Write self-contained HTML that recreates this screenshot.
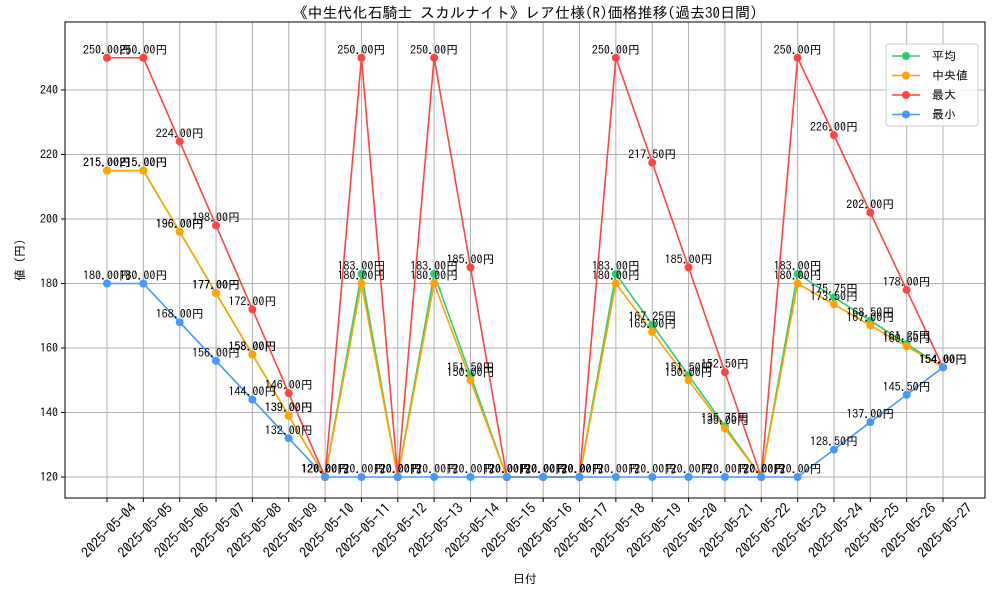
<!DOCTYPE html>
<html><head><meta charset="utf-8"><style>
html,body{margin:0;padding:0;background:#fff;}
svg{display:block;font-family:"IPAGothic","Noto Sans CJK JP","Liberation Sans",sans-serif;}
</style></head><body>
<svg id="chart" width="1000" height="600" viewBox="0 0 1000 600" xmlns="http://www.w3.org/2000/svg">
<rect width="1000" height="600" fill="#fff"/>
<text x="525" y="18" text-anchor="middle" font-size="15">《中生代化石騎士 スカルナイト》レア仕様(R)価格推移(過去30日間)</text>
<g id="grid"></g><g id="series"></g><g id="labels"></g>
<rect x="65" y="22" width="920" height="476" fill="none" stroke="#000" stroke-width="1"/>
<g id="axes"></g>
<text x="525" y="583" text-anchor="middle" font-size="12">日付</text>
<text transform="translate(24,260) rotate(-90)" text-anchor="middle" font-size="12">値 (円)</text>
<g>
<rect x="886" y="44" width="92" height="82" rx="3" fill="#fff" fill-opacity="0.85" stroke="#ccc"/>
<g id="legend"></g>
</g>
</svg>
<script>
const dates=["2025-05-04","2025-05-05","2025-05-06","2025-05-07","2025-05-08","2025-05-09","2025-05-10","2025-05-11","2025-05-12","2025-05-13","2025-05-14","2025-05-15","2025-05-16","2025-05-17","2025-05-18","2025-05-19","2025-05-20","2025-05-21","2025-05-22","2025-05-23","2025-05-24","2025-05-25","2025-05-26","2025-05-27"];
const meanVals=[215,215,196,177,158,139,120,183,120,183,151.5,120,120,120,183,167.25,151.5,135.75,120,183,175.75,168.5,161.25,154];
const medianVals=[215,215,196,177,158,139,120,180,120,180,150,120,120,120,180,165,150,135,120,180,173.5,167,160.5,154];
const maxVals=[250,250,224,198,172,146,120,250,120,250,185,120,120,120,250,217.5,185,152.5,120,250,226,202,178,154];
const minVals=[180,180,168,156,144,132,120,120,120,120,120,120,120,120,120,120,120,120,120,120,128.5,137,145.5,154];
const yTicks=[120,140,160,180,200,220,240];
const seriesNames=["平均","中央値","最大","最小"];
const NS="http://www.w3.org/2000/svg";
function X(i){return 107+i*(943-107)/(dates.length-1);}
function Y(v){return 477-(v-120)*(477-90)/120;}
function mk(t,a,p){const e=document.createElementNS(NS,t);for(const k in a)e.setAttribute(k,a[k]);p.appendChild(e);return e;}
const grid=document.getElementById('grid'),axes=document.getElementById('axes');
dates.forEach((d,i)=>{
  const l=mk('line',{x1:X(i),x2:X(i),y1:22,y2:498,stroke:'#b0b0b0','stroke-width':1},grid);
  
  
  mk('line',{x1:X(i),x2:X(i),y1:498,y2:502,stroke:'#000'},axes);
  const t=mk('text',{'font-size':14,'text-anchor':'end',transform:`translate(${X(i)+30},${509}) rotate(-45)`},axes);
  t.textContent=d;
  
  
});
yTicks.forEach(v=>{
  const l=mk('line',{x1:65,x2:985,y1:Y(v),y2:Y(v),stroke:'#b0b0b0','stroke-width':1},grid);
  
  
  mk('line',{x1:61,x2:65,y1:Y(v),y2:Y(v),stroke:'#000'},axes);
  const t=mk('text',{x:58,y:Y(v)+4,'font-size':12,'text-anchor':'end'},axes);
  t.textContent=v;
  
  
});
const all=[meanVals,medianVals,maxVals,minVals];
const colors=["#2ecc71","#ffa500","#ff4444","#4499ff"];
const sg=document.getElementById('series'),lg=document.getElementById('labels'),leg=document.getElementById('legend');
all.forEach((vals,s)=>{
  const g=mk('g',{},sg);
  
  
  mk('polyline',{points:vals.map((v,i)=>X(i)+','+Y(v)).join(' '),fill:'none',stroke:colors[s],'stroke-width':1.6},g);
  vals.forEach((v,i)=>{
    const c=mk('circle',{cx:X(i),cy:Y(v),r:4,fill:colors[s]},g);
    
    
  });
});
all.forEach((vals,s)=>{
  vals.forEach((v,i)=>{
    const t=mk('text',{x:X(i),y:Y(v)-4,'font-size':12,'text-anchor':'middle'},lg);
    t.textContent=v.toFixed(2)+'円';
    
    
  });
});
seriesNames.forEach((n,s)=>{
  const y=56+s*19.5;
  mk('line',{x1:892,x2:920,y1:y,y2:y,stroke:colors[s],'stroke-width':1.6},leg);
  mk('circle',{cx:906,cy:y,r:4,fill:colors[s]},leg);
  const t=mk('text',{x:932,y:y+4,'font-size':12},leg);
  t.textContent=n;
  
  
});
</script>
</body></html>
